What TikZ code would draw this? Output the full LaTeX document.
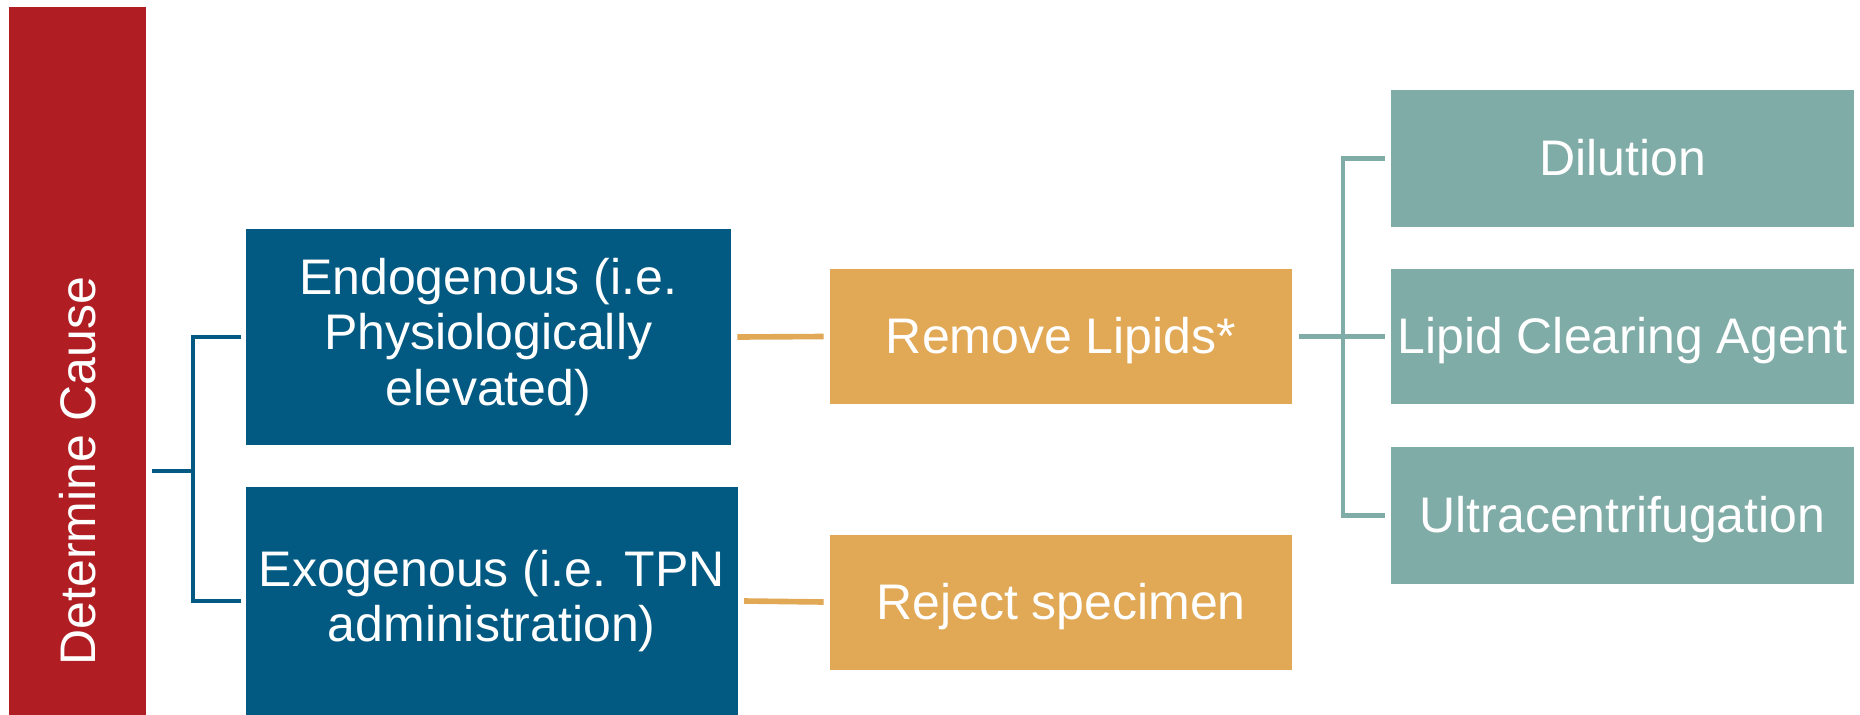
\documentclass[tikz,border=0pt]{standalone}
\usepackage{fontspec}
\setmainfont{Liberation Sans}
\usepackage{tikz}
\definecolor{causered}{HTML}{B01E24}
\definecolor{typeblue}{HTML}{025A82}
\definecolor{actorange}{HTML}{E1A856}
\definecolor{methodteal}{HTML}{80ACA7}

\begin{document}
\begin{tikzpicture}[
	box/.style={rectangle, draw=none, text=white, align=center, inner sep=0pt,
		font=\fontsize{28.45}{31.4}\selectfont,
		execute at begin node=\rule{0pt}{0.905em},
		execute at end node=\rule[-0.212em]{0pt}{0pt}},
	causebox/.style={rectangle, fill=causered, text=white, inner sep=0pt,
		font=\fontsize{28.45}{31.4}\selectfont, minimum width=2.73cm, minimum height=18.56cm},
	typebox/.style={box, fill=typeblue, minimum width=9.71cm, minimum height=4.32cm,
		execute at begin node=\rule{0pt}{1.065em}},
	actbox/.style={box, fill=actorange, minimum width=9.24cm, minimum height=2.7cm},
	methodbox/.style={box, fill=methodteal, minimum width=9.26cm, minimum height=2.74cm},
	bluelink/.style={draw=typeblue, line width=2.3pt},
	orangelink/.style={draw=actorange, line width=3.2pt},
	teallink/.style={draw=methodteal, line width=2.8pt}]
	\useasboundingbox (0,0) rectangle (37.2,-14.28);
	\node[causebox] (cause) at (1.555,-9.42) {\rotatebox{90}{\rule{0pt}{0.905em}Determine Cause\rule[-0.212em]{0pt}{0pt}}};
	\node[typebox] (endo) at (9.765,-6.74) {Endogenous (i.e.\\Physiologically\\elevated)};
	\node[typebox, minimum width=9.84cm, minimum height=4.56cm] (exo) at (9.835,-12.02) {Exogenous (i.e. TPN\\administration)};
	\node[actbox] (remove) at (21.22,-6.73) {Remove Lipids*};
	\node[actbox] (reject) at (21.22,-12.04) {Reject specimen};
	\node[methodbox] (dilute) at (32.45,-3.17) {Dilution};
	\node[methodbox, minimum height=2.7cm] (agent) at (32.45,-6.73) {Lipid Clearing Agent};
	\node[methodbox] (ultra) at (32.45,-10.31) {Ultracentrifugation};
	\coordinate (fork1) at (3.86,-9.42);
	\coordinate (fork2) at (26.86,-6.73);
	\draw[bluelink] ([xshift=0.12cm]cause.east) -- (fork1);
	\draw[bluelink] ([xshift=-0.09cm]endo.west) -| (fork1) |- ([xshift=-0.09cm]exo.west);
	\draw[orangelink] ([xshift=0.12cm]endo.east) -- ([xshift=-0.12cm]remove.west);
	\draw[orangelink] ([xshift=0.12cm]exo.east) -- ([xshift=-0.12cm]reject.west);
	\draw[teallink] ([xshift=0.14cm]remove.east) -- ([xshift=-0.12cm]agent.west);
	\draw[teallink] ([xshift=-0.12cm]dilute.west) -| (fork2) |- ([xshift=-0.12cm]ultra.west);
\end{tikzpicture}
\end{document}
